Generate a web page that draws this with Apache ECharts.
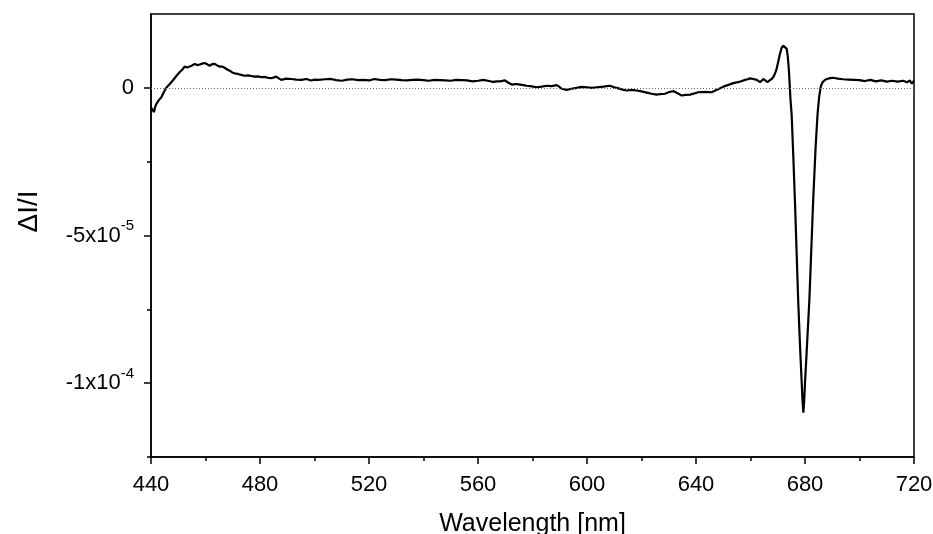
<!DOCTYPE html>
<html>
<head>
<meta charset="utf-8">
<script src="https://cdn.jsdelivr.net/npm/echarts@6/dist/echarts.min.js"></script>
<style>
  html, body { margin: 0; padding: 0; background: #fff; }
  #chart { width: 933px; height: 534px; }
</style>
</head>
<body>
<div id="chart"></div>
<script>
// wavelength in nm
const wavelength = [
  440.0, 440.6, 441.1, 441.6, 442.0, 443.0, 443.8, 444.7, 445.6, 446.8,
  448.0, 449.3, 450.5, 451.5, 452.4, 453.3, 454.2, 455.1, 456.0, 457.0,
  457.9, 458.8, 459.7, 460.6, 461.5, 462.4, 463.4, 464.3, 465.2, 466.1,
  467.0, 468.0, 468.9, 469.8, 470.7, 471.9, 473.1, 474.3, 475.6, 476.8,
  478.0, 479.2, 480.5, 481.7, 482.9, 484.5, 486.0, 486.9, 487.8, 489.6,
  491.5, 493.3, 495.2, 497.0, 498.8, 500.0, 501.3, 502, 504, 506,
  508, 510, 512, 514, 516, 518, 520, 522, 524, 526,
  528, 530, 532, 534, 536, 538, 540, 542, 544, 546,
  548, 550, 552, 554, 556, 558, 560, 562, 564, 565.5,
  567, 568.1, 569.9, 571, 572.4, 574, 575.4, 576.7, 577.9, 579.7,
  581.5, 583.4, 585.2, 587, 588.9, 589.8, 590.7, 592.5, 594.3, 596.2,
  598, 599.9, 601.8, 603.6, 606, 608.4, 610, 611.5, 613, 614.6,
  616.4, 618.2, 620, 621.9, 623.7, 625.5, 627, 628.6, 630.2, 631.7,
  633.2, 634.7, 636.2, 637.8, 639.3, 640.8, 641.5, 643.6, 645.7, 647.9,
  650, 651.9, 653.7, 655.8, 658, 659, 659.8, 661, 662.3, 663.5,
  664.7, 665.4, 666.2, 667, 667.8, 668.6, 669.4, 670.1, 670.8, 671.4,
  672.0, 672.7, 673.3, 673.7, 674.1, 674.7, 675.1, 675.7, 676.3, 676.9,
  677.5, 678.2, 678.8, 679.1, 679.4, 679.7, 680.0, 680.8, 681.6, 682.3,
  683.0, 683.9, 684.6, 685.2, 685.8, 686.4, 687.2, 688.0, 689.2, 690.4,
  692, 694, 696, 698, 700, 702, 704, 706, 708, 710,
  712, 714, 716, 717.5, 718.5, 719.2, 720
];

// ΔI/I in units of 1e-5
const deltaI = [
  -0.66, -0.75, -0.82, -0.62, -0.54, -0.40, -0.32, -0.15, 0.00, 0.12,
  0.25, 0.40, 0.53, 0.62, 0.72, 0.69, 0.72, 0.76, 0.81, 0.77,
  0.79, 0.82, 0.84, 0.80, 0.75, 0.80, 0.81, 0.76, 0.72, 0.72,
  0.68, 0.62, 0.58, 0.52, 0.49, 0.47, 0.44, 0.41, 0.42, 0.40,
  0.38, 0.39, 0.36, 0.37, 0.34, 0.33, 0.38, 0.32, 0.27, 0.31,
  0.30, 0.28, 0.27, 0.30, 0.25, 0.28, 0.27, 0.25, 0.29, 0.30,
  0.26, 0.24, 0.28, 0.29, 0.26, 0.27, 0.25, 0.30, 0.27, 0.26,
  0.29, 0.28, 0.26, 0.25, 0.27, 0.28, 0.26, 0.24, 0.27, 0.26,
  0.25, 0.24, 0.27, 0.26, 0.25, 0.22, 0.24, 0.27, 0.23, 0.20,
  0.22, 0.22, 0.25, 0.18, 0.11, 0.13, 0.11, 0.09, 0.07, 0.05,
  0.02, 0.04, 0.07, 0.06, 0.09, 0.04, -0.03, -0.07, -0.03, 0.00,
  0.03, 0.02, 0.00, 0.02, 0.04, 0.07, 0.02, -0.02, -0.06, -0.09,
  -0.07, -0.09, -0.12, -0.16, -0.20, -0.23, -0.21, -0.20, -0.14, -0.11,
  -0.18, -0.26, -0.24, -0.23, -0.19, -0.15, -0.13, -0.14, -0.15, -0.06,
  0.04, 0.10, 0.16, 0.20, 0.27, 0.29, 0.32, 0.30, 0.27, 0.19,
  0.30, 0.24, 0.19, 0.25, 0.30, 0.40, 0.58, 0.85, 1.15, 1.35,
  1.43, 1.40, 1.32, 1.05, 0.58, -0.43, -0.90, -2.30, -3.81, -5.50,
  -7.19, -8.80, -10.00, -10.60, -11.00, -10.60, -10.00, -8.60, -7.19, -5.50,
  -3.81, -2.00, -0.90, -0.30, 0.05, 0.18, 0.26, 0.30, 0.33, 0.34,
  0.31, 0.29, 0.28, 0.27, 0.26, 0.23, 0.27, 0.22, 0.25, 0.21,
  0.24, 0.21, 0.24, 0.19, 0.25, 0.14, 0.24
];

const xMajorTicks = [440, 480, 520, 560, 600, 640, 680, 720];
const xMinorTicks = [460, 500, 540, 580, 620, 660, 700];
const yMajorTicks = [-10, -5, 0];
const yMinorTicks = [-12.5, -7.5, -2.5];
const yTickLabels = { '0': '0', '-5': '{b|-5x10}{s|-5}', '-10': '{b|-1x10}{s|-4}' };

const FONT = '"Liberation Sans Narrow", "Arial Narrow", "Liberation Sans", Arial, sans-serif';

const chart = echarts.init(document.getElementById('chart'));

const axisLine = { show: true, onZero: false, lineStyle: { color: '#000', width: 1.5 } };

chart.setOption({
  animation: false,
  backgroundColor: '#fff',
  grid: {
    left: 151,
    right: 19,
    top: 14,
    bottom: 77,
    outerBoundsMode: 'none',
    show: true,
    borderColor: '#000',
    borderWidth: 1.5,
    backgroundColor: 'transparent'
  },
  xAxis: [
    {
      type: 'value',
      min: 440,
      max: 720,
      interval: 40,
      position: 'bottom',
      axisLine: axisLine,
      axisTick: { show: true, inside: false, length: 7, customValues: xMajorTicks, lineStyle: { color: '#000', width: 1.5 } },
      axisLabel: { color: '#000', fontFamily: FONT, fontSize: 22, margin: 17, customValues: xMajorTicks },
      splitLine: { show: false },
      name: 'Wavelength [nm]',
      nameLocation: 'middle',
      nameGap: 55,
      nameTextStyle: { color: '#000', fontFamily: FONT, fontSize: 25 }
    },
    {
      type: 'value',
      min: 440,
      max: 720,
      position: 'bottom',
      axisLine: { show: false, onZero: false },
      axisTick: { show: true, inside: false, length: 4, customValues: xMinorTicks, lineStyle: { color: '#000', width: 1.5 } },
      axisLabel: { show: false },
      splitLine: { show: false }
    }
  ],
  yAxis: [
    {
      type: 'value',
      min: -12.5,
      max: 2.5,
      position: 'left',
      axisLine: axisLine,
      axisTick: { show: true, inside: false, length: 7, customValues: yMajorTicks, lineStyle: { color: '#000', width: 1.5 } },
      axisLabel: {
        color: '#000',
        fontFamily: FONT,
        fontSize: 22,
        margin: 17,
        customValues: yMajorTicks,
        formatter: v => yTickLabels[String(v)] || '',
        rich: {
          b: { fontFamily: FONT, fontSize: 22, color: '#000', lineHeight: 34 },
          s: { fontFamily: FONT, fontSize: 15, color: '#000', verticalAlign: 'top', lineHeight: 15 }
        }
      },
      splitLine: { show: false },
      name: 'ΔI/I',
      nameLocation: 'middle',
      nameGap: 108,
      nameTextStyle: { color: '#000', fontFamily: FONT, fontSize: 28, padding: [0, 0, 0, 48] }
    },
    {
      type: 'value',
      min: -12.5,
      max: 2.5,
      position: 'left',
      axisLine: { show: false, onZero: false },
      axisTick: { show: true, inside: false, length: 4, customValues: yMinorTicks, lineStyle: { color: '#000', width: 1.5 } },
      axisLabel: { show: false },
      splitLine: { show: false }
    }
  ],
  series: [
    {
      type: 'line',
      xAxisIndex: 0,
      yAxisIndex: 0,
      data: wavelength.map((w, i) => [w, deltaI[i]]),
      showSymbol: false,
      lineStyle: { color: '#000', width: 2.2 },
      silent: true,
      markLine: {
        silent: true,
        symbol: 'none',
        label: { show: false },
        lineStyle: { color: '#666', width: 1, type: [1, 2] },
        data: [{ yAxis: 0 }]
      }
    }
  ]
});
</script>
</body>
</html>
